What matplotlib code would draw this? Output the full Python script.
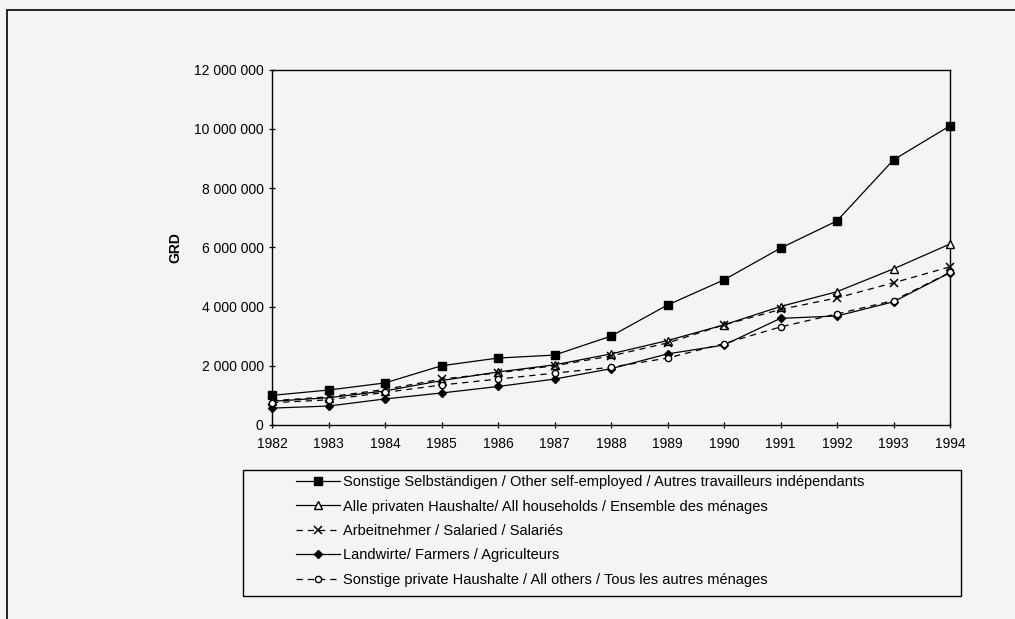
"""
Einkommen der privaten Haushalte nach Gruppen, 1982-1994 (GRD)
"""

import matplotlib
matplotlib.use('Agg')
import matplotlib.pyplot as plt
from matplotlib.patches import Rectangle
from matplotlib.ticker import FuncFormatter, MultipleLocator

plt.rcParams['font.family'] = ['Liberation Sans', 'DejaVu Sans']

# Daten
years = [1982, 1983, 1984, 1985, 1986, 1987, 1988, 1989, 1990, 1991, 1992, 1993, 1994]

self_employed = [1000000, 1180000, 1420000, 2000000, 2260000, 2360000, 3000000,
                 4050000, 4900000, 5970000, 6890000, 8950000, 10100000]
all_households = [800000, 920000, 1150000, 1500000, 1790000, 2030000, 2400000,
                  2850000, 3380000, 4000000, 4500000, 5270000, 6110000]
salaried = [820000, 950000, 1200000, 1550000, 1760000, 2000000, 2330000,
            2770000, 3380000, 3900000, 4290000, 4800000, 5340000]
farmers = [570000, 640000, 880000, 1080000, 1300000, 1550000, 1900000,
           2400000, 2700000, 3600000, 3680000, 4160000, 5140000]
all_others = [750000, 850000, 1100000, 1350000, 1550000, 1750000, 1950000,
              2260000, 2750000, 3310000, 3750000, 4200000, 5150000]

labels = [
    'Sonstige Selbständigen / Other self-employed / Autres travailleurs indépendants',
    'Alle privaten Haushalte/ All households / Ensemble des ménages',
    'Arbeitnehmer / Salaried / Salariés',
    'Landwirte/ Farmers / Agriculteurs',
    'Sonstige private Haushalte / All others / Tous les autres ménages',
]

bg = '#f4f4f4'

fig = plt.figure(figsize=(10.15, 6.19), dpi=100)
fig.patch.set_facecolor(bg)

# Rahmen um die ganze Grafik
fig.add_artist(Rectangle((7 / 1015, -0.05), 1.1, 1 - 10 / 619 + 0.05,
                         transform=fig.transFigure, fill=False,
                         edgecolor='black', linewidth=1.2))

ax = fig.add_axes([272 / 1015, 1 - 425 / 619, 678 / 1015, 355.5 / 619])
ax.set_facecolor(bg)

common = dict(color='black', lw=0.9, clip_on=False, zorder=3)
ax.plot(years, self_employed, ls='-', marker='s', ms=5.5,
        mfc='black', mec='black', label=labels[0], **common)
ax.plot(years, all_households, ls='-', marker='^', ms=5.5,
        mfc='white', mec='black', label=labels[1], **common)
ax.plot(years, salaried, ls=(0, (5, 4)), marker='x', ms=6, mew=1.1,
        mec='black', label=labels[2], **common)
ax.plot(years, farmers, ls='-', marker='D', ms=4.5,
        mfc='black', mec='black', label=labels[3], **common)
ax.plot(years, all_others, ls=(0, (5, 4)), marker='o', ms=4.5,
        mfc='white', mec='black', label=labels[4], **common)

ax.set_xlim(1982, 1994)
ax.set_ylim(0, 12000000)
ax.set_xticks(years)
ax.yaxis.set_major_locator(MultipleLocator(2000000))
ax.yaxis.set_major_formatter(FuncFormatter(lambda v, p: f'{int(v):,}'.replace(',', ' ')))
ax.tick_params(axis='both', direction='inout', length=5, width=0.9,
               labelsize=10, colors='black')
ax.tick_params(axis='x', pad=6)
for sp in ax.spines.values():
    sp.set_linewidth(1.0)
    sp.set_color('black')

ax.set_ylabel('GRD', fontsize=10, fontweight='bold', labelpad=8)

# Legende mit eigenem Rahmen
fig.add_artist(Rectangle((243 / 1015, 1 - 596 / 619), 718 / 1015, 126 / 619,
                         transform=fig.transFigure, fill=False,
                         edgecolor='black', linewidth=1.0))
handles, labs = ax.get_legend_handles_labels()
leg = fig.legend(handles, labs, loc='upper left',
                 bbox_to_anchor=(296 / 1015, 1 - 475 / 619),
                 frameon=False, fontsize=10.5, handlelength=3.0,
                 handletextpad=0.2, labelspacing=0.72, borderpad=0,
                 borderaxespad=0)

fig.savefig('out.png', dpi=100, facecolor=fig.get_facecolor())
